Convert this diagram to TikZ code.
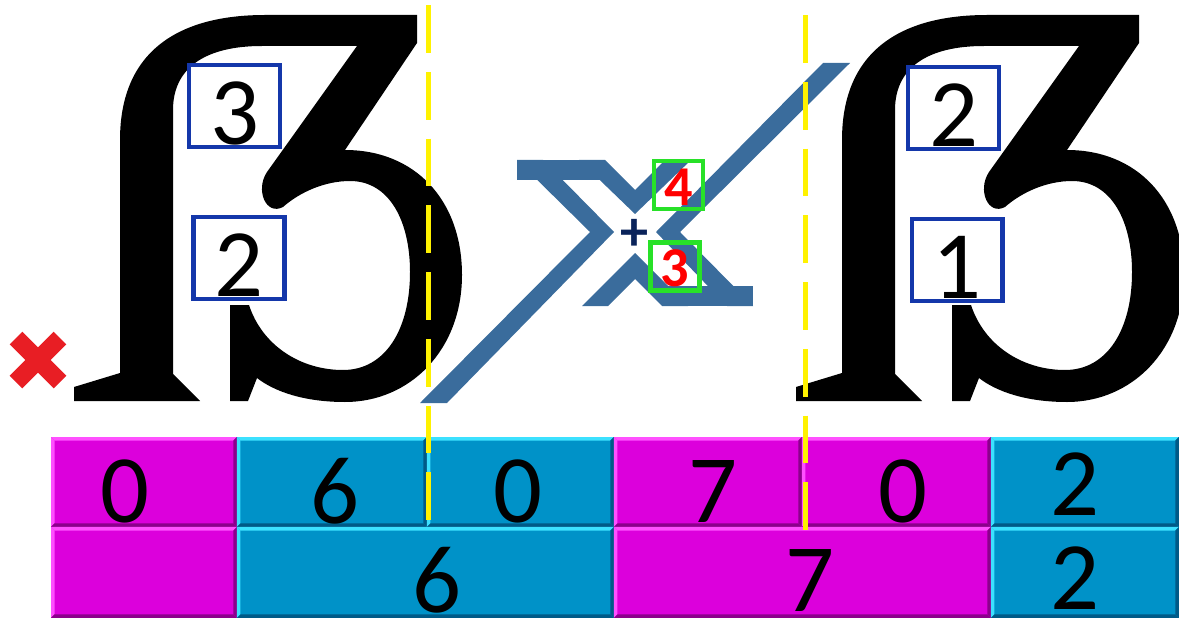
\documentclass[tikz,border=0pt]{standalone}
\usepackage{fontspec}
\setmainfont{Carlito}
\usetikzlibrary{positioning}

\definecolor{magfill}{RGB}{220,0,220}
\definecolor{maglight}{RGB}{255,80,255}
\definecolor{magdark}{RGB}{140,0,140}
\definecolor{cyfill}{RGB}{0,146,200}
\definecolor{cylight}{RGB}{60,225,255}
\definecolor{cydark}{RGB}{0,90,135}
\definecolor{boxblue}{RGB}{20,55,170}
\definecolor{boxgreen}{RGB}{40,225,40}
\definecolor{xblue}{RGB}{58,108,156}
\definecolor{plusnavy}{RGB}{10,35,90}
\definecolor{markred}{RGB}{232,30,36}

\newcommand{\bigdigits}{\fontsize{55}{60}\selectfont}

\begin{document}
\begin{tikzpicture}[
    x=0.02cm, y=-0.02cm,
    bevel/.style={fill=#1fill, path picture={
        \coordinate (nw) at (path picture bounding box.north west);
        \coordinate (ne) at (path picture bounding box.north east);
        \coordinate (sw) at (path picture bounding box.south west);
        \coordinate (se) at (path picture bounding box.south east);
        \fill[#1light] (nw) -- (ne) -- ([shift={(-2pt,-2pt)}]ne) -- ([shift={(2pt,-2pt)}]nw) -- cycle;
        \fill[#1light] (nw) -- (sw) -- ([shift={(2pt,2pt)}]sw) -- ([shift={(2pt,-2pt)}]nw) -- cycle;
        \fill[#1dark] (sw) -- (se) -- ([shift={(-2pt,2pt)}]se) -- ([shift={(2pt,2pt)}]sw) -- cycle;
        \fill[#1dark] (ne) -- (se) -- ([shift={(-2pt,2pt)}]se) -- ([shift={(-2pt,-2pt)}]ne) -- cycle;}},
    cell/.style={inner sep=0pt, outer sep=0pt, anchor=north west, minimum height=1.8cm},
    lowcell/.style={minimum height=1.82cm},
    cellm/.style={cell, bevel=mag},
    cellc/.style={cell, bevel=cy},
    digit/.style={font=\bigdigits, inner sep=0pt},
    numbox/.style={draw=boxblue, line width=2.3pt, fill=white, inner sep=0pt,
        minimum width=1.82cm, minimum height=1.64cm, font=\bigdigits,
        text height=44pt, text depth=0pt},
    crossbox/.style={draw=boxgreen, line width=2.3pt, inner sep=0pt,
        minimum width=0.98cm, minimum height=0.96cm, text=red,
        font=\fontsize{32}{32}\selectfont\bfseries, text height=23pt, text depth=0pt},
    guide/.style={yellow, line width=0.1cm, dash pattern=on 27.2pt off 10.8pt}
]
\useasboundingbox (0,0) rectangle (1179,618);

% the two big glyphs
\foreach \gx in {0,722}
  \fill[shift={(\gx,0)}] (74,401) -- (200,401) -- (173,374) -- (173,110)
    .. controls (173,68) and (205,46) .. (262,46) -- (357,46) -- (267,172)
    .. controls (255,190) and (266,216) .. (283,207)
    .. controls (300,192) and (325,181) .. (350,181)
    .. controls (390,181) and (410,222) .. (410,272)
    .. controls (410,330) and (385,370) .. (343,370)
    .. controls (300,370) and (262,345) .. (249,305)
    -- (230,305) -- (230,401) -- (248,401) -- (257,378)
    .. controls (275,392) and (305,402) .. (345,402)
    .. controls (410,402) and (462,350) .. (462,275)
    .. controls (462,200) and (415,150) .. (345,150)
    -- (417,43) -- (417,15) -- (265,15)
    .. controls (180,15) and (120,50) .. (120,140) -- (120,373) -- (74,387) -- cycle;

% times sign, hollow X with long slash
\fill[xblue] (517,160) -- (543,160) -- (614,232) -- (447,403) -- (420,403) -- (590,232) -- cycle;
\fill[xblue] (517,160) rectangle (605,180);
\fill[xblue] (579,160) -- (605,160) -- (635,190) -- (665,160) -- (691,160) -- (635,214) -- cycle;
\fill[xblue] (823,63) -- (850,63) -- (680,232) -- (753,306) -- (727,306) -- (656,232) -- cycle;
\fill[xblue] (662,286) rectangle (753,306);
\fill[xblue] (582,306) -- (635,253) -- (688,306) -- (662,306) -- (635,279) -- (608,306) -- cycle;

% digit boxes
\node[numbox] (n3) at (234.5,106) {3};
\node[numbox] (n2) at (239,258) {2};
\node[numbox] (m2) at (953.5,108) {2};
\node[numbox] (m1) at (957,260) {1};

\node[crossbox] (g4) at (678.5,185) {4};
\node[crossbox] (g3) at (675,266.5) {3};
\node[text=plusnavy, font=\fontsize{32}{32}\selectfont\bfseries, inner sep=0pt] (plus) at (634,235) {+};

% result bars
\node[cellm, minimum width=3.72cm] (t1) at (51,437) {};
\node[cellc, minimum width=3.8cm, right=0pt of t1] (t2) {};
\node[cellc, minimum width=3.74cm, right=0pt of t2] (t3) {};
\node[cellm, minimum width=3.76cm, right=0pt of t3] (t4) {};
\node[cellm, minimum width=3.78cm, right=0pt of t4] (t5) {};
\node[cellc, minimum width=3.76cm, right=0pt of t5] (t6) {};

\node[cellm, lowcell, minimum width=3.72cm, below=0pt of t1] (b1) {};
\node[cellc, lowcell, minimum width=7.54cm, right=0pt of b1] (b2) {};
\node[cellm, lowcell, minimum width=7.54cm, right=0pt of b2] (b3) {};
\node[cellc, lowcell, minimum width=3.76cm, right=0pt of b3] (b4) {};

% digits on the bars
\node[digit] (d1) at (125,491) {0};
\node[digit] (d2) at (335,491) {6};
\node[digit] (d3) at (518,491) {0};
\node[digit] (d4) at (713,491) {7};
\node[digit] (d5) at (903,491) {0};
\node[digit] (d6) at (1075,484) {2};
\node[digit] (e2) at (437,580) {6};
\node[digit] (e3) at (810,580) {7};
\node[digit] (e4) at (1075,578) {2};

% red mark
\draw[markred, line width=0.36cm] (16,338) -- (60,382) (60,338) -- (16,382);

% yellow guides
\coordinate (ya) at (428,5);
\coordinate (yb) at (428,522);
\coordinate (yc) at (805,15);
\coordinate (yd) at (805,532);
\draw[guide] (ya) -- (yb);
\draw[guide] (yc) -- (yd);

\end{tikzpicture}
\end{document}
